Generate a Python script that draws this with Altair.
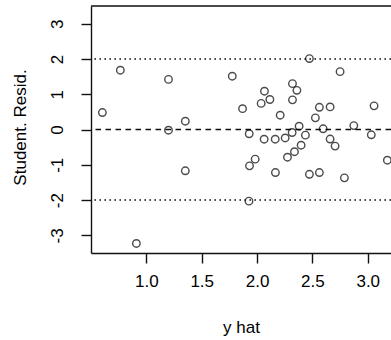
import altair as alt
import pandas as pd

# Fitted values and studentized residuals
y_hat = [0.603, 0.765, 0.91, 1.20, 1.20, 1.352, 1.352, 1.776, 1.869, 1.929,
         1.932, 1.927, 1.983, 2.037, 2.064, 2.067, 2.116, 2.164, 2.166, 2.209,
         2.254, 2.275, 2.317, 2.32, 2.32, 2.338, 2.36, 2.38, 2.398, 2.437,
         2.473, 2.473, 2.527, 2.563, 2.563, 2.597, 2.66, 2.66, 2.705, 2.75,
         2.789, 2.874, 3.032, 3.057, 3.177]
stud_resid = [0.48, 1.68, -3.23, 1.42, -0.02, 0.235, -1.17, 1.51, 0.59, -0.12,
              -1.03, -2.03, -0.84, 0.74, -0.275, 1.085, 0.85, -0.275, -1.22, 0.405,
              -0.24, -0.785, -0.085, 1.30, 0.84, -0.63, 1.11, 0.093, -0.445, -0.16,
              2.01, -1.27, 0.33, 0.63, -1.22, 0.02, 0.64, -0.27, -0.47, 1.64,
              -1.37, 0.11, -0.15, 0.67, -0.87]

ref_dashed = [0]
ref_dotted = [-2, 2]
x_ticks = [1.0, 1.5, 2.0, 2.5, 3.0]
y_ticks = [-3, -2, -1, 0, 1, 2, 3]

FONT = "Liberation Sans"
INK = "#111111"

df = pd.DataFrame({"yhat": y_hat, "resid": stud_resid})

x_scale = alt.Scale(domain=[0.5, 3.21], nice=False, zero=False)
y_scale = alt.Scale(domain=[-3.5, 3.5], nice=False, zero=False)

x_axis = alt.Axis(values=x_ticks, format=".1f", grid=False, title="y hat",
                  domainColor=INK, domainWidth=1.4, tickColor=INK, tickWidth=1.4,
                  tickSize=10, labelFont=FONT, labelFontSize=17, labelColor="black",
                  labelPadding=10, labelFlush=False, titleFont=FONT,
                  titleFontSize=17, titleFontWeight="normal", titleColor="black",
                  titleBaseline="alphabetic", titleY=79)
y_axis = alt.Axis(values=y_ticks, grid=False, title="Student. Resid.",
                  labelExpr="'' + datum.value",
                  domainColor=INK, domainWidth=1.4, tickColor=INK, tickWidth=1.4,
                  tickSize=10, labelAngle=-90, labelAlign="center",
                  labelBaseline="bottom", labelFont=FONT, labelFontSize=17,
                  labelColor="black", labelPadding=15, labelFlush=False,
                  titleFont=FONT, titleFontSize=17, titleFontWeight="normal",
                  titleColor="black", titleAngle=-90, titleBaseline="alphabetic",
                  titleX=-66, titleY=121, titleAlign="center")

points = alt.Chart(df).mark_point(
    shape="circle", filled=False, size=56, stroke="black", strokeWidth=1.4,
    clip=True
).encode(
    x=alt.X("yhat:Q", scale=x_scale, axis=x_axis),
    y=alt.Y("resid:Q", scale=y_scale, axis=y_axis),
)

zero_line = alt.Chart(pd.DataFrame({"v": ref_dashed})).mark_rule(
    color=INK, strokeWidth=1.4, strokeDash=[5.5, 4.5]
).encode(y=alt.Y("v:Q", scale=y_scale))

band_lines = alt.Chart(pd.DataFrame({"v": ref_dotted})).mark_rule(
    color=INK, strokeWidth=1.4, strokeDash=[1.6, 3.4]
).encode(y=alt.Y("v:Q", scale=y_scale))

top_edge = alt.Chart(pd.DataFrame({"v": [0]})).mark_rule(
    color=INK, strokeWidth=1.4
).encode(y=alt.value(0), x=alt.value(0), x2=alt.value(300))

chart = alt.layer(band_lines, zero_line, points, top_edge).properties(
    width=300, height=247,
    autosize=alt.AutoSizeParams(type="none"),
    padding={"left": 91, "top": 6, "right": 0, "bottom": 87},
    background="white",
).configure_view(stroke=None)

chart.save("out.html", embed_options={"renderer": "svg", "actions": False})
